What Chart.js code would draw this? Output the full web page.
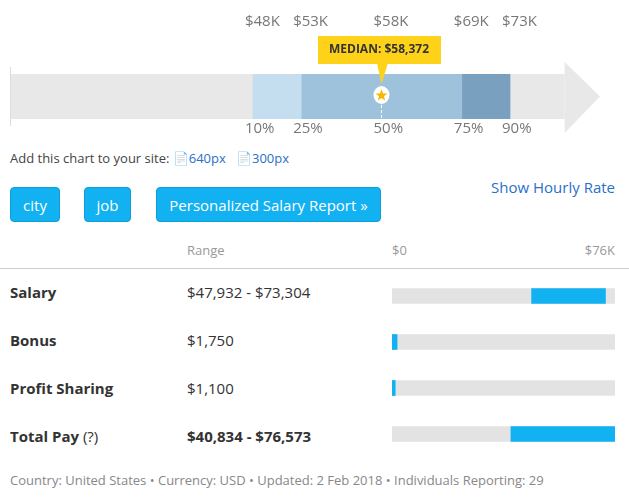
<!DOCTYPE html>
<html><head><meta charset="utf-8">
<script src="https://cdn.jsdelivr.net/npm/chart.js@4"></script>
<style>
body{margin:0;width:629px;height:497px;font-family:"Open Sans",sans-serif;position:relative;overflow:hidden;background:#fff}
.a{position:absolute;white-space:nowrap}
.btn{position:absolute;background:#12b1f1;color:#fff;border-radius:4px;font-size:15px;height:35px;line-height:35px;text-align:center;top:187px;border:1px solid #0c9fd8;box-sizing:border-box}
.lbl{font-size:15px;color:#333;font-weight:bold}
.rng{font-size:15px;color:#333}
</style></head><body>
<canvas id="top" style="position:absolute;left:0;top:0" width="629" height="140"></canvas>
<div class="a" style="left:10px;top:149px;font-size:13px;color:#444">Add this chart to your site: <span style="color:#2a70c9">&#128196;640px</span> &nbsp; <span style="color:#2a70c9">&#128196;300px</span></div>
<div class="btn" style="left:10px;width:50px">city</div>
<div class="btn" style="left:84px;width:47px">job</div>
<div class="btn" style="left:156px;width:225px">Personalized Salary Report »</div>
<div class="a" style="right:14px;top:177px;font-size:15px;color:#2a70c9">Show Hourly Rate</div>
<div class="a" style="left:187px;top:241px;font-size:13px;color:#999">Range</div>
<div class="a" style="left:392px;top:241px;font-size:13px;color:#999">$0</div>
<div class="a" style="right:14px;top:241px;font-size:13px;color:#999">$76K</div>
<div class="a" style="left:0;top:268px;width:629px;height:1px;background:#ccc"></div>
<div id="rows"></div>
<canvas id="bars" style="position:absolute;left:392px;top:273px" width="223" height="184"></canvas>
<div class="a" style="left:10px;top:471px;font-size:13px;color:#888">Country: United States • Currency: USD • Updated: 2 Feb 2018 • Individuals Reporting: 29</div>
<script>
var percentiles = [10, 25, 50, 75, 90];
var percentileValues = ['$48K', '$53K', '$58K', '$69K', '$73K'];
var median = '$58,372';
var categories = ['Salary', 'Bonus', 'Profit Sharing', 'Total Pay'];
var rangeLabels = ['$47,932 - $73,304', '$1,750', '$1,100', '$40,834 - $76,573'];
var rangeLow = [47932, 0, 0, 40834];
var rangeHigh = [73304, 1750, 1100, 76573];
var scaleMax = 76573;

var rows = document.getElementById('rows');
categories.forEach(function(c, i) {
  var y = 282 + i * 48;
  var name = c == 'Total Pay' ? c + ' <span style="font-weight:normal">(?)</span>' : c;
  rows.innerHTML += '<div class="a lbl" style="left:10px;top:' + y + 'px">' + name + '</div>' +
    '<div class="a rng" style="left:187px;top:' + y + 'px;' + (i == 3 ? 'font-weight:bold' : '') + '">' + rangeLabels[i] + '</div>';
});

var arrowPlugin = {
  id: 'arrow',
  beforeDatasetsDraw: function(chart) {
    var c = chart.ctx, a = chart.chartArea, x = chart.scales.x;
    var xr = x.getPixelForValue(107);
    c.fillStyle = '#e8e8e8';
    c.fillRect(a.left, a.top, xr - a.left, a.bottom - a.top);
    c.beginPath();
    c.moveTo(xr, a.top - 12); c.lineTo(a.right, (a.top + a.bottom) / 2); c.lineTo(xr, a.bottom + 14);
    c.closePath(); c.fill();
  },
  afterDatasetsDraw: function(chart) {
    var c = chart.ctx, a = chart.chartArea, x = chart.scales.x;
    c.font = '15px "Open Sans"'; c.fillStyle = '#777'; c.textAlign = 'left'; c.textBaseline = 'middle';
    percentiles.forEach(function(p, i) {
      var px = x.getPixelForValue(p);
      c.fillText(percentileValues[i], px - 8, 22);
      c.fillText(p + '%', px - 8, 129);
    });
    var mx = x.getPixelForValue(50), cy = 95;
    c.strokeStyle = '#fff'; c.setLineDash([3, 2]); c.lineWidth = 1;
    c.beginPath(); c.moveTo(mx, cy); c.lineTo(mx, 119); c.stroke(); c.setLineDash([]);
    c.fillStyle = '#ffd21a';
    c.fillRect(318, 36, 123, 28);
    c.beginPath(); c.moveTo(377, 63); c.lineTo(388, 63); c.lineTo(mx, 84); c.closePath(); c.fill();
    c.fillStyle = '#333'; c.font = 'bold 12px "Open Sans"'; c.textAlign = 'center';
    c.fillText('MEDIAN: ' + median, 379, 50);
    c.fillStyle = '#fff'; c.beginPath(); c.ellipse(mx, cy, 8, 9, 0, 0, Math.PI * 2); c.fill();
    c.fillStyle = '#f5b800'; c.beginPath();
    for (var k = 0; k < 10; k++) {
      var r = k % 2 ? 2.6 : 6.2, ang = -Math.PI / 2 + k * Math.PI / 5;
      c.lineTo(mx + r * Math.cos(ang), cy + 0.5 + r * Math.sin(ang));
    }
    c.closePath(); c.fill();
    c.strokeStyle = '#ddd'; c.beginPath(); c.moveTo(a.left + 0.5, a.top - 7); c.lineTo(a.left + 0.5, a.bottom + 7); c.stroke();
  }
};

var bandColors = ['#c4def0', '#9fc2dc', '#9fc2dc', '#7aa0c0'];
new Chart(document.getElementById('top'), {
  type: 'bar',
  data: {
    labels: [''],
    datasets: bandColors.map(function(col, i) {
      return { data: [[percentiles[i], percentiles[i + 1]]], backgroundColor: col, barPercentage: 1, categoryPercentage: 1 };
    })
  },
  options: {
    indexAxis: 'y', responsive: false, animation: false,
    layout: { padding: { left: 10, right: 29, top: 74, bottom: 21 } },
    plugins: { legend: { display: false }, tooltip: { enabled: false } },
    scales: {
      x: { display: false, min: -65.6, max: 118 },
      y: { display: false, stacked: true }
    }
  },
  plugins: [arrowPlugin]
});

new Chart(document.getElementById('bars'), {
  type: 'bar',
  data: {
    labels: categories,
    datasets: [
      { data: categories.map(function(c, i) { return [rangeLow[i], rangeHigh[i]]; }), backgroundColor: '#12b1f1', barThickness: 15, grouped: false, order: 0 },
      { data: categories.map(function() { return [0, scaleMax]; }), backgroundColor: '#e3e3e3', barThickness: 15, grouped: false, order: 1 }
    ]
  },
  options: {
    indexAxis: 'y', responsive: false, animation: false,
    layout: { padding: 0 },
    plugins: { legend: { display: false }, tooltip: { enabled: false } },
    scales: {
      x: { display: false, min: 0, max: scaleMax },
      y: { display: false }
    }
  }
});
</script>
</body></html>
